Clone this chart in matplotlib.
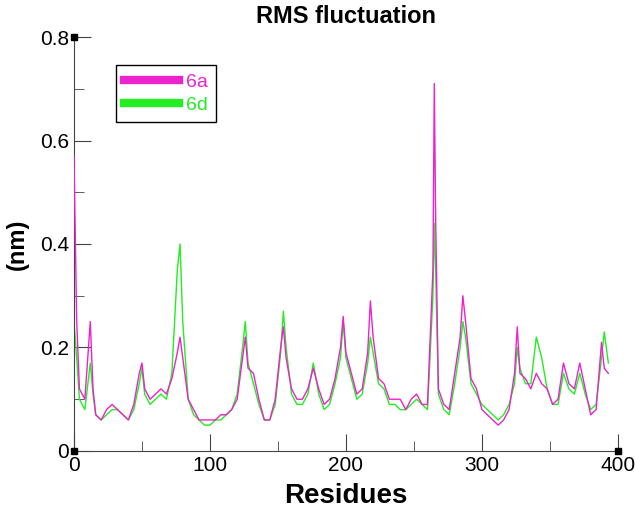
import numpy as np
import matplotlib.pyplot as plt
from matplotlib.ticker import MultipleLocator

plt.rcParams["font.family"] = "Liberation Sans"

# ============================================================
# Data
# ============================================================

residues = [0, 2, 4, 8, 12, 14, 16, 20, 24, 28, 32, 36, 40, 44, 48, 50, 52, 56, 60, 64,
            68, 72, 76, 78, 80, 84, 88, 92, 96, 100, 104, 108, 112, 116, 120, 124, 126, 128, 132, 136,
            140, 144, 148, 152, 154, 156, 160, 164, 168, 172, 176, 180, 184, 188, 192, 196, 198, 200, 204, 208,
            212, 216, 218, 220, 224, 228, 232, 236, 240, 244, 248, 252, 256, 260, 264, 265, 266, 268, 272, 276,
            280, 284, 286, 288, 292, 296, 300, 304, 308, 312, 316, 320, 324, 326, 328, 332, 336, 340, 344, 348,
            352, 356, 360, 364, 368, 372, 376, 380, 384, 388, 390, 393]

rmsf_6a = [0.57, 0.25, 0.12, 0.10, 0.25, 0.12, 0.07, 0.06, 0.08, 0.09, 0.08, 0.07, 0.06, 0.09, 0.15, 0.17, 0.12, 0.10, 0.11, 0.12,
           0.11, 0.14, 0.19, 0.22, 0.18, 0.10, 0.08, 0.06, 0.06, 0.06, 0.06, 0.07, 0.07, 0.08, 0.10, 0.18, 0.22, 0.16, 0.15, 0.10,
           0.06, 0.06, 0.10, 0.20, 0.24, 0.18, 0.12, 0.10, 0.10, 0.12, 0.16, 0.12, 0.09, 0.10, 0.14, 0.20, 0.26, 0.19, 0.15, 0.11,
           0.12, 0.19, 0.29, 0.22, 0.14, 0.13, 0.10, 0.10, 0.10, 0.08, 0.10, 0.11, 0.09, 0.09, 0.35, 0.71, 0.45, 0.12, 0.09, 0.08,
           0.15, 0.22, 0.30, 0.25, 0.14, 0.12, 0.08, 0.07, 0.06, 0.05, 0.06, 0.08, 0.15, 0.24, 0.15, 0.14, 0.12, 0.15, 0.13, 0.12,
           0.09, 0.10, 0.17, 0.13, 0.12, 0.17, 0.12, 0.07, 0.08, 0.21, 0.16, 0.15]

rmsf_6d = [0.25, 0.18, 0.10, 0.08, 0.17, 0.11, 0.07, 0.06, 0.07, 0.08, 0.08, 0.07, 0.06, 0.08, 0.13, 0.16, 0.11, 0.09, 0.10, 0.11,
           0.10, 0.15, 0.35, 0.40, 0.25, 0.10, 0.07, 0.06, 0.05, 0.05, 0.06, 0.06, 0.07, 0.08, 0.11, 0.20, 0.25, 0.17, 0.13, 0.09,
           0.06, 0.06, 0.09, 0.19, 0.27, 0.20, 0.11, 0.09, 0.09, 0.11, 0.17, 0.11, 0.08, 0.09, 0.13, 0.18, 0.25, 0.18, 0.14, 0.10,
           0.11, 0.17, 0.22, 0.19, 0.13, 0.12, 0.09, 0.09, 0.08, 0.08, 0.09, 0.10, 0.09, 0.08, 0.30, 0.44, 0.35, 0.11, 0.08, 0.07,
           0.13, 0.20, 0.25, 0.22, 0.13, 0.11, 0.09, 0.08, 0.07, 0.06, 0.07, 0.09, 0.13, 0.20, 0.16, 0.13, 0.13, 0.22, 0.18, 0.12,
           0.09, 0.09, 0.15, 0.12, 0.11, 0.15, 0.11, 0.08, 0.09, 0.18, 0.23, 0.17]

# ============================================================
# Plot
# ============================================================

fig = plt.figure(figsize=(6.35, 5.14), dpi=100)
ax = fig.add_axes([0.1165, 0.1226, 0.8565, 0.8054])

ax.plot(residues, rmsf_6a, color="#ee22cc", lw=1.0, label="6a", zorder=3)
ax.plot(residues, rmsf_6d, color="#22ee22", lw=1.0, label="6d", zorder=2)

ax.set_xlim(0, 400)
ax.set_ylim(0, 0.8)
ax.xaxis.set_major_locator(MultipleLocator(100))
ax.xaxis.set_minor_locator(MultipleLocator(50))
ax.yaxis.set_minor_locator(MultipleLocator(0.1))
ax.set_yticks([0, 0.2, 0.4, 0.6, 0.8])
ax.set_yticklabels(["0", "0.2", "0.4", "0.6", "0.8"])
ax.tick_params(which="both", direction="in", color="#444444", labelsize=15)
ax.tick_params(which="major", length=12)
ax.tick_params(which="minor", length=7)
for s in ["top", "right"]:
    ax.spines[s].set_visible(False)
for s in ["left", "bottom"]:
    ax.spines[s].set_color("#444444")

# corner markers
ax.plot([0, 0, 400], [0, 0.8, 0], "s", color="black", ms=5, clip_on=False, zorder=5)

ax.set_title("RMS fluctuation", fontsize=17, fontweight="bold", pad=10)
ax.set_xlabel("Residues", fontsize=20, fontweight="bold", labelpad=6)
ax.set_ylabel("(nm)", fontsize=17, fontweight="bold", labelpad=8)

leg = ax.legend(loc="upper left", bbox_to_anchor=(0.06, 0.955), fontsize=14,
                handlelength=2.8, handletextpad=0.4, fancybox=False, framealpha=1,
                borderpad=0.4, labelspacing=0.3)
leg.get_frame().set_edgecolor("black")
for line, text in zip(leg.get_lines(), leg.get_texts()):
    line.set_linewidth(6)
    text.set_color(line.get_color())

fig.savefig("out.png", dpi=100)
